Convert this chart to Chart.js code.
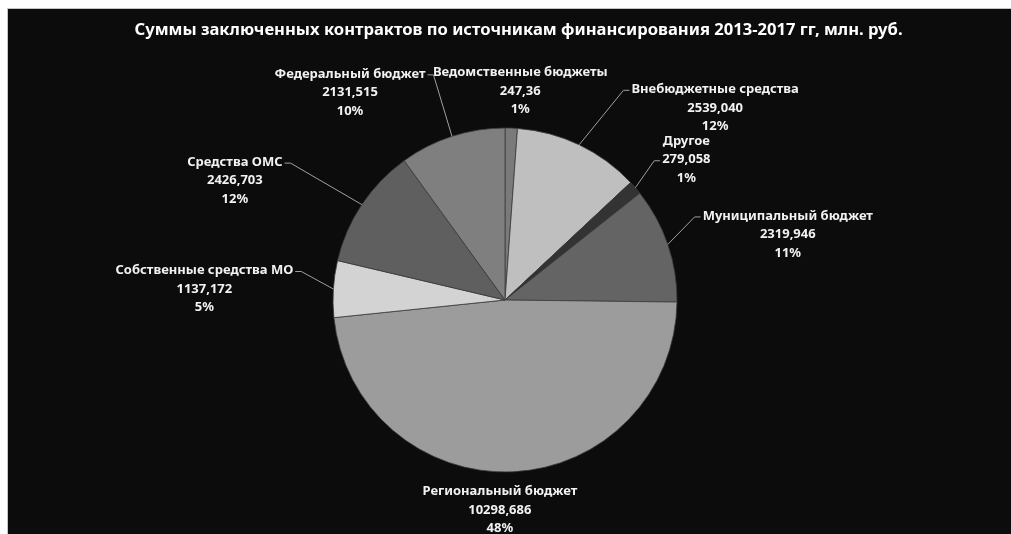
<!DOCTYPE html>
<html lang="ru">
<head>
<meta charset="utf-8">
<title>Суммы заключенных контрактов</title>
<script src="https://cdn.jsdelivr.net/npm/chart.js@4/dist/chart.umd.min.js"></script>
<style>
  html, body { margin: 0; padding: 0; background: #ffffff; }
  body { width: 1011px; height: 534px; position: relative; overflow: hidden; }
  #frame {
    position: absolute; left: 7px; top: 8px;
    width: 1004px; height: 526px;
    border-left: 1px solid #c4c4c4; border-top: 1px solid #c4c4c4;
    background: #0c0c0c;
  }
  #chart { display: block; }
</style>
</head>
<body>
<div id="frame"><canvas id="chart" width="1003" height="525"></canvas></div>
<script>
// Contract sums by funding source, 2013-2017, mln rub.
// Listed clockwise from 12 o'clock.
const categories = [
  'Ведомственные бюджеты',
  'Внебюджетные средства',
  'Другое',
  'Муниципальный бюджет',
  'Региональный бюджет',
  'Собственные средства МО',
  'Средства ОМС',
  'Федеральный бюджет'
];
const amounts = [247.36, 2539.040, 279.058, 2319.946, 10298.686, 1137.172, 2426.703, 2131.515];
const amountDecimals = [2, 3, 3, 3, 3, 3, 3, 3];
const sliceColors = ['#7a7a7a', '#bfbfbf', '#333333', '#646464', '#9c9c9c', '#d3d3d3', '#5f5f5f', '#7f7f7f'];

const TITLE = 'Суммы заключенных контрактов по источникам финансирования 2013-2017 гг, млн. руб.';
const FONT = '"Noto Sans", "Open Sans", sans-serif';
const LABEL_SIZE = 13;
const LINE_H = 18.5;

// Label block placement relative to the rim point at each slice's mid-angle:
// dx/dy move the middle text line, `line` is the row the leader attaches to.
const labelPlacement = [
  { dx: 9,    dy: -37, line: 0 },
  { dx: 136,  dy: -37, line: 0 },
  { dx: 51,   dy: -28, line: 1 },
  { dx: 120,  dy: -10, line: 0 },
  { dx: -13,  dy: 38,  line: 0 },
  { dx: -129, dy: 0,   line: 0 },
  { dx: -127, dy: -24, line: 0 },
  { dx: -102, dy: -44, line: 0 }
];

// Whole percentages that add up to 100 (largest remainder).
function roundedShares(vals) {
  const total = vals.reduce((a, b) => a + b, 0);
  const raw = vals.map(v => v / total * 100);
  const out = raw.map(Math.floor);
  let left = 100 - out.reduce((a, b) => a + b, 0);
  raw.map((r, i) => [r - Math.floor(r), i])
     .sort((a, b) => b[0] - a[0])
     .slice(0, left)
     .forEach(([, i]) => out[i] += 1);
  return out;
}
const shares = roundedShares(amounts);

function formatAmount(i) {
  return amounts[i].toFixed(amountDecimals[i]).replace('.', ',');
}

// Title sits a little right of the pie's axis, so it is drawn here
// instead of through the title box.
const chartTitle = {
  id: 'chartTitle',
  afterDraw(chart) {
    const ctx = chart.ctx;
    ctx.save();
    ctx.font = `bold 16.6px ${FONT}`;
    ctx.fillStyle = '#ffffff';
    ctx.textAlign = 'center';
    ctx.textBaseline = 'middle';
    ctx.fillText(TITLE, chart.width / 2 + 9, 21);
    ctx.restore();
  }
};

const sliceLabels = {
  id: 'sliceLabels',
  afterDatasetsDraw(chart) {
    const ctx = chart.ctx;
    const arcs = chart.getDatasetMeta(0).data;
    ctx.save();
    ctx.font = `bold ${LABEL_SIZE}px ${FONT}`;
    ctx.textAlign = 'center';
    ctx.textBaseline = 'middle';

    const blocks = arcs.map((arc, i) => {
      const p = arc.getProps(['x', 'y', 'startAngle', 'endAngle', 'outerRadius'], true);
      const mid = (p.startAngle + p.endAngle) / 2;
      const ax = p.x + Math.cos(mid) * p.outerRadius;
      const ay = p.y + Math.sin(mid) * p.outerRadius;
      const pl = labelPlacement[i];
      const cx = ax + pl.dx, cy = ay + pl.dy;
      const lines = [categories[i], formatAmount(i), shares[i] + '%'];
      const widths = lines.map(t => ctx.measureText(t).width);
      const half = Math.max(...widths) / 2;
      const box = { l: cx - half, r: cx + half, t: cy - LINE_H * 1.5, b: cy + LINE_H * 1.5 };
      const gx = Math.max(box.l - ax, 0, ax - box.r);
      const gy = Math.max(box.t - ay, 0, ay - box.b);
      return { ax, ay, cx, cy, lines, widths, pl, far: Math.hypot(gx, gy) > 15 };
    });

    // leader lines: rim point -> short elbow -> side of the attached text row
    ctx.strokeStyle = '#a0a0a0';
    ctx.lineWidth = 1;
    blocks.forEach(b => {
      if (!b.far) return;
      const ly = b.cy + (b.pl.line - 1) * LINE_H + 1;
      const w = b.widths[b.pl.line];
      const side = b.cx > b.ax ? -1 : 1;
      const edge = b.cx + side * (w / 2 + 2);
      ctx.beginPath();
      ctx.moveTo(b.ax, b.ay);
      ctx.lineTo(edge + side * 6, ly);
      ctx.lineTo(edge, ly);
      ctx.stroke();
    });

    ctx.fillStyle = '#f2f2f2';
    blocks.forEach(b => {
      b.lines.forEach((t, k) => ctx.fillText(t, b.cx, b.cy + (k - 1) * LINE_H));
    });
    ctx.restore();
  }
};

new Chart(document.getElementById('chart'), {
  type: 'pie',
  data: {
    labels: categories,
    datasets: [{
      data: amounts,
      backgroundColor: sliceColors,
      borderColor: 'rgba(60,60,60,0.8)',
      borderWidth: 1,
      hoverOffset: 0
    }]
  },
  options: {
    responsive: false,
    devicePixelRatio: 1,
    animation: false,
    radius: 172,
    layout: { padding: { left: 0, right: 9, top: 57, bottom: 0 } },
    plugins: {
      legend: { display: false },
      tooltip: { enabled: false },
      title: { display: false }
    }
  },
  plugins: [sliceLabels, chartTitle]
});
</script>
</body>
</html>
